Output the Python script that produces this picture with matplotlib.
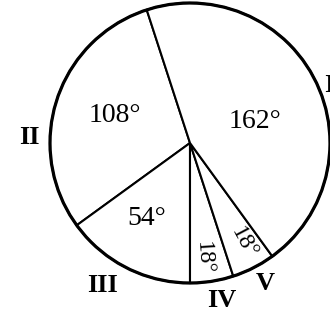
import matplotlib
matplotlib.use("Agg")
import matplotlib.pyplot as plt
import numpy as np
from matplotlib.patches import Circle

# Data (sector angles in degrees), counter-clockwise from 108°
sectors = ["II", "III", "IV", "V", "I"]
angles = [108, 54, 18, 18, 162]
angle_labels = ["108°", "54°", "18°", "18°", "162°"]

W, H = 330, 322
fig = plt.figure(figsize=(W / 100, H / 100), dpi=100)
fig.patch.set_facecolor("white")
cx, cy, R = 190, 143, 140  # pixels
ax = fig.add_axes([(cx - R) / W, 1 - (cy + R) / H, 2 * R / W, 2 * R / H])

wedges, _ = ax.pie(angles, startangle=108, counterclock=True, radius=1,
                   colors=["white"] * len(angles),
                   wedgeprops=dict(edgecolor="black", linewidth=1.5))
ax.set_xlim(-1, 1)
ax.set_ylim(-1, 1)
ax.axis("off")
for w in wedges:
    w.set_clip_on(False)
ax.add_patch(Circle((0, 0), 1, fill=False, edgecolor="black", lw=2.3, clip_on=False))

serif = ["Liberation Serif", "DejaVu Serif"]

# inner label placements (radius fraction, angle deg, rotation)
inner_pos = {"II": (0.57, 160, 0), "III": (0.62, 240, 0), "IV": (0.83, 276.5, -86),
             "V": (0.81, 298, -62), "I": (0.49, 18, 0)}
inner_size = {"II": 20, "III": 20, "IV": 17, "V": 17, "I": 20}
outer_pos = {"II": (1.15, 178), "III": (1.19, 238.5), "IV": (1.15, 281.5),
             "V": (1.14, 298), "I": (1.08, 22.5)}

for name, lab in zip(sectors, angle_labels):
    r, a, rot = inner_pos[name]
    t = np.deg2rad(a)
    ax.text(r * np.cos(t), r * np.sin(t), lab, ha="center", va="center",
            rotation=rot, rotation_mode="anchor", fontsize=inner_size[name],
            family=serif, color="black")
    r2, a2 = outer_pos[name]
    t2 = np.deg2rad(a2)
    ax.text(r2 * np.cos(t2), r2 * np.sin(t2), name, ha="center", va="center",
            fontsize=19, fontweight="bold", family=serif, color="black", clip_on=False)

fig.savefig("out.png", dpi=100, facecolor="white")
